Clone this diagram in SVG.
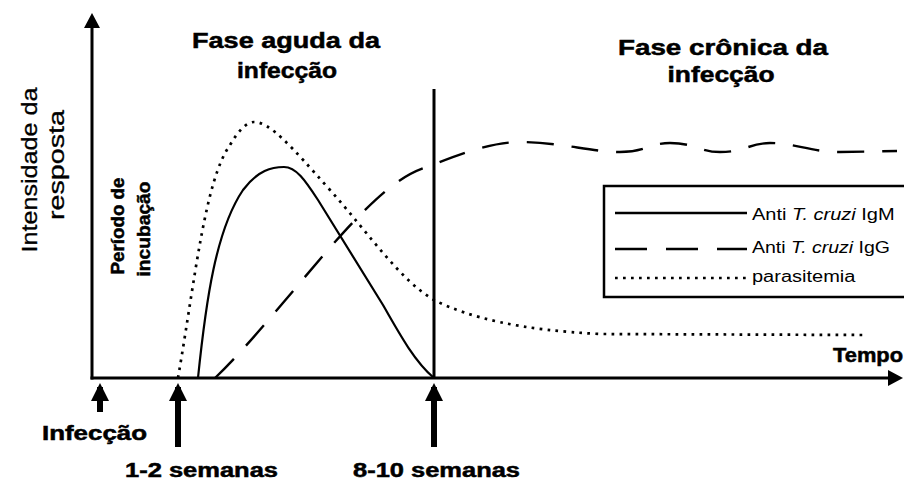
<svg xmlns="http://www.w3.org/2000/svg" width="904" height="480" viewBox="0 0 904 480">
<style>
text{font-family:"Liberation Sans",Arial,sans-serif;fill:#000}
.b{font-weight:bold;stroke:#000;stroke-width:0.5}
.r{stroke:#000;stroke-width:0.3}
.t{font-size:22px}
.ax{stroke:#000;stroke-width:3;fill:none}
.arr{stroke:#000;stroke-width:6;fill:none}
.igm{stroke:#000;stroke-width:2.2;fill:none}
.igg{stroke:#000;stroke-width:2.4;fill:none;stroke-dasharray:27 18}
.par{stroke:#000;stroke-width:2.7;fill:none;stroke-dasharray:2.7 5.3}
.lg{font-size:16px}
</style>
<defs>
<marker id="ah" markerUnits="userSpaceOnUse" markerWidth="16" markerHeight="16" refX="11" refY="8" orient="auto"><path d="M0,0 L15,8 L0,16 z" fill="#000"/></marker>
<marker id="ab" markerUnits="userSpaceOnUse" markerWidth="20" markerHeight="20" refX="14" refY="10" orient="auto"><path d="M0,1 L18,10 L0,19 z" fill="#000"/></marker>
</defs>
<rect width="904" height="480" fill="#fff"/>

<g id="axes">
<line class="ax" x1="92" y1="379.5" x2="92" y2="17" marker-end="url(#ah)"/>
<line class="ax" x1="90.5" y1="378" x2="899" y2="378" marker-end="url(#ah)"/>
<line class="ax" x1="434" y1="89" x2="434" y2="378"/>
</g>

<g id="connectors">
<line class="arr" x1="100" y1="412" x2="100" y2="387" marker-end="url(#ab)"/>
<line class="arr" x1="178" y1="447" x2="178" y2="387" marker-end="url(#ab)"/>
<line class="arr" x1="434" y1="447" x2="434" y2="387" marker-end="url(#ab)"/>
</g>

<g id="curves">
<path id="parasitemia" class="par" d="M178,378 C195,280 205,180 230,145 C240,128 248,122 254,122 C270,122 290,145 330,190 C370,235 400,280 434,300 C470,318 520,330 600,334 L865,335"/>
<path id="igm" class="igm" d="M198,378 C206,300 216,230 243,190 C258,170 272,167 284,167 C296,167 305,180 318,200 L383,305 C400,335 415,362 434,378"/>
<path id="igg" class="igg" d="M215,378 C260,335 320,255 360,215 C385,190 405,173 430,166 C455,156 490,142 520,142 C560,142 590,152 620,152 C645,152 650,143 670,143 C695,143 700,152 720,152 C745,152 750,143 770,143 C795,143 810,152 840,152 L897,151"/>
</g>

<g id="titles">
<text class="b t" x="286" y="48" text-anchor="middle" textLength="188" lengthAdjust="spacingAndGlyphs">Fase aguda da</text>
<text class="b t" x="287" y="78" text-anchor="middle" textLength="100" lengthAdjust="spacingAndGlyphs">infecção</text>
<text class="b t" x="723" y="55" text-anchor="middle" textLength="210" lengthAdjust="spacingAndGlyphs">Fase crônica da</text>
<text class="b t" x="721" y="82" text-anchor="middle" textLength="107" lengthAdjust="spacingAndGlyphs">infecção</text>
</g>

<g id="axis-labels">
<text class="r" transform="translate(37,170) rotate(-90)" font-size="22" text-anchor="middle" textLength="165" lengthAdjust="spacingAndGlyphs">Intensidade da</text>
<text class="r" transform="translate(64,165) rotate(-90)" font-size="22" text-anchor="middle" textLength="110" lengthAdjust="spacingAndGlyphs">resposta</text>
<text class="b" transform="translate(124,226) rotate(-90)" font-size="19" text-anchor="middle" textLength="97" lengthAdjust="spacingAndGlyphs">Período de</text>
<text class="b" transform="translate(150,229) rotate(-90)" font-size="19" text-anchor="middle" textLength="95" lengthAdjust="spacingAndGlyphs">incubação</text>
<text class="b" x="833" y="362" font-size="20" textLength="70" lengthAdjust="spacingAndGlyphs">Tempo</text>
</g>

<g id="time-labels">
<text class="b" x="42" y="440" font-size="20" textLength="105" lengthAdjust="spacingAndGlyphs">Infecção</text>
<text class="b" x="125" y="477" font-size="20" textLength="153" lengthAdjust="spacingAndGlyphs">1-2 semanas</text>
<text class="b" x="353" y="477" font-size="20" textLength="167" lengthAdjust="spacingAndGlyphs">8-10 semanas</text>
</g>

<g id="legend">
<rect x="604" y="186" width="320" height="111" fill="#fff" stroke="#000" stroke-width="2.5"/>
<line x1="615" y1="213" x2="747" y2="213" stroke="#000" stroke-width="2.6"/>
<line x1="615" y1="249" x2="747" y2="249" stroke="#000" stroke-width="2.6" stroke-dasharray="32 19"/>
<line class="par" x1="615" y1="278" x2="749" y2="278"/>
<text class="lg" transform="translate(752,220) scale(1.25,1)">Anti <tspan font-style="italic">T. cruzi</tspan> IgM</text>
<text class="lg" transform="translate(752,253) scale(1.22,1)">Anti <tspan font-style="italic">T. cruzi</tspan> IgG</text>
<text class="lg" transform="translate(752,282) scale(1.25,1)">parasitemia</text>
</g>
</svg>
